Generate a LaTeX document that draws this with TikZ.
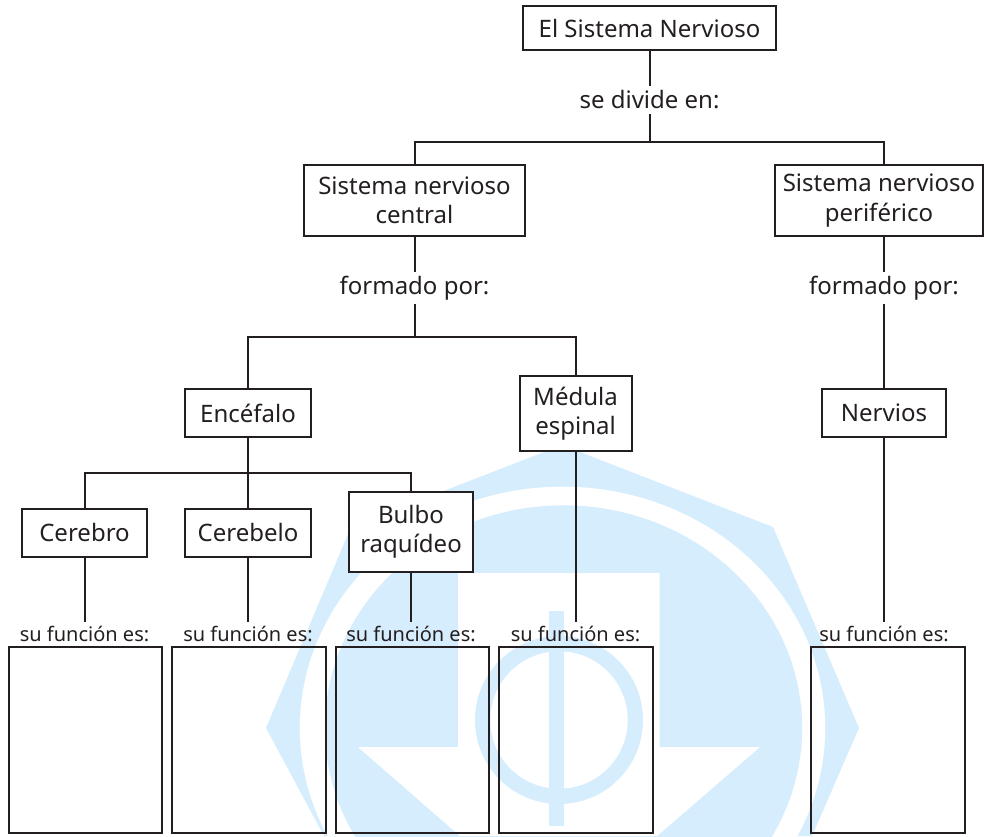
\documentclass[tikz,border=0pt]{standalone}
\usepackage{fontspec}
\setmainfont{Noto Sans}
\definecolor{inkc}{HTML}{231F20}
\definecolor{logoc}{HTML}{D6EDFD}
\tikzset{
    concept/.style={draw=inkc,line width=1.5pt,fill=white,text=inkc,align=center,font=\fontsize{18}{22}\selectfont,inner sep=0pt},
    linker/.style={text=inkc,align=center,font=\fontsize{18}{22}\selectfont,inner sep=3pt},
    linksmall/.style={text=inkc,align=center,font=\fontsize{15}{18}\selectfont,inner sep=3pt},
    answer/.style={draw=inkc,line width=1.5pt,minimum width=115pt,minimum height=139pt,inner sep=0pt},
    wire/.style={draw=inkc,line width=1.5pt}
}
\begin{document}
\begin{tikzpicture}[x=0.75pt,y=-0.75pt]
    \useasboundingbox (0,0) rectangle (984,836);
    %watermark
    \begin{scope}
        \clip (0,0) rectangle (984,836);
        \fill[logoc] (562,445) -- (773,527) -- (859,728) -- (812,836) -- (324,836) -- (266,728) -- (351,527) -- cycle;
        \fill[white] (562.5,728) circle[x radius=197pt,y radius=181pt];
        \fill[logoc] (563.5,728) circle[x radius=179pt,y radius=167pt];
        \fill[white] (458,573) -- (659.5,573) -- (659.5,747) -- (760,747) -- (657,836) -- (460,836) -- (358,747) -- (458,747) -- cycle;
        \fill[logoc] (559,720) circle[radius=63pt];
        \fill[white] (559,720) circle[radius=51.5pt];
        \fill[logoc] (549,611) rectangle (564,826);
    \end{scope}
    %upper part
    \node[concept,minimum width=190pt,minimum height=33pt] (root) at (649.5,28) {El Sistema Nervioso};
    \node[linker] (divide) at (649.5,100) {se divide en:};
    \node[concept,minimum width=166pt,minimum height=53pt] (snc) at (414.5,200.5) {Sistema nervioso\\central};
    \node[concept,minimum width=156pt,minimum height=53pt] (snp) at (879,200.5) {Sistema nervioso\\periférico};
    \node[linker] (formedc) at (414.5,288) {formado por:};
    \node[linker] (formedp) at (884,288) {formado por:};
    \coordinate (splitmain) at (649.5,142);
    \coordinate (snpin) at (884,165);
    \coordinate (snpout) at (884,237);
    \draw[wire] (root) -- (divide);
    \draw[wire] (divide) -- (splitmain);
    \draw[wire] (snc.north) |- (splitmain) -| (snpin);
    \draw[wire] (snc) -- (formedc);
    \draw[wire] (snpout) -- (formedp);
    %middle part
    \node[concept,minimum width=94pt,minimum height=36pt] (encefalo) at (248,413) {Encéfalo};
    \node[concept,minimum width=84pt,minimum height=56pt] (medula) at (575.5,413.5) {Médula\\espinal};
    \node[concept,minimum width=93pt,minimum height=36pt] (nervios) at (884,413) {Nervios};
    \coordinate (splitc) at (414.5,337);
    \draw[wire] (formedc) -- (splitc);
    \draw[wire] (encefalo.north) |- (splitc) -| (medula.north);
    \draw[wire] (formedp) -- (nervios);
    %lower part
    \node[concept,minimum width=94pt,minimum height=36pt] (cerebro) at (84.5,532.5) {Cerebro};
    \node[concept,minimum width=94pt,minimum height=36pt] (cerebelo) at (248,532.5) {Cerebelo};
    \node[concept,minimum width=93pt,minimum height=60pt] (bulbo) at (411,532) {Bulbo\\raquídeo};
    \coordinate (splite) at (248,473);
    \draw[wire] (encefalo) -- (cerebelo);
    \draw[wire] (cerebro.north) |- (splite) -| (bulbo.north);
    \foreach \n/\cx/\bx in {cerebro/84.5/85.5, cerebelo/248/249, bulbo/411/412.5, medula/575.5/576, nervios/884/888} {
        \node[linksmall] (fn\n) at (\cx,634) {su función es:};
        \node[answer] (box\n) at (\bx,740) {};
        \draw[wire] (\n) -- (fn\n);
    }
\end{tikzpicture}
\end{document}
